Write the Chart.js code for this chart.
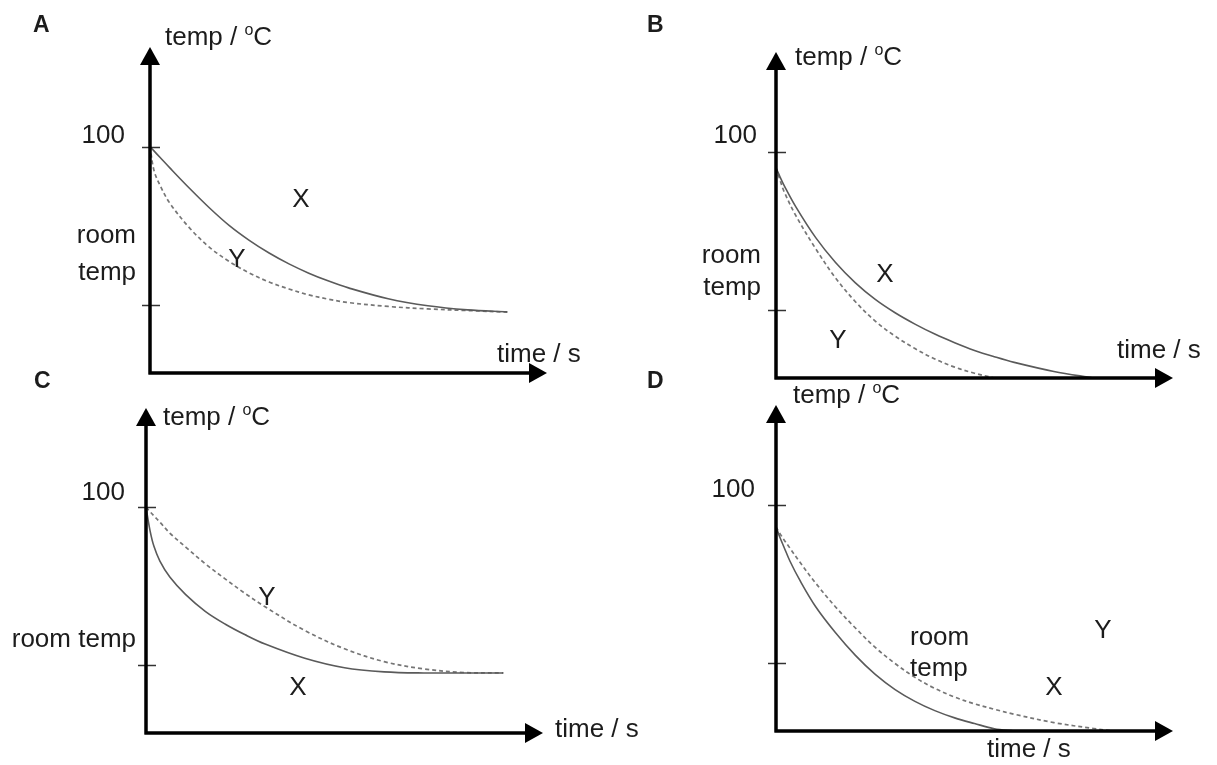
<!DOCTYPE html>
<html>
<head>
<meta charset="utf-8">
<title>Cooling curves A-D</title>
<script src="https://cdn.jsdelivr.net/npm/chart.js@4.4.1/dist/chart.umd.min.js"></script>
<style>
  html, body { margin: 0; padding: 0; background: #fff; overflow: hidden; }
  #wrap { position: relative; width: 1217px; height: 765px; }
  #wrap canvas { position: absolute; left: 0; top: 0; }
</style>
</head>
<body>
<div id="wrap">
  <canvas id="panelA" width="1217" height="765"></canvas>
  <canvas id="panelB" width="1217" height="765"></canvas>
  <canvas id="panelC" width="1217" height="765"></canvas>
  <canvas id="panelD" width="1217" height="765"></canvas>
</div>
<script>
// ===== DATA =====
// time in arbitrary units (0..100 = whole x axis), temp in degC-ish units (axis 0..144)
const tempTicks = [100, 30];          // "100" and "room temp"
const tempMax = 144;
const timeMax = 100;

// Panel A
const timeA  = [0, 1, 2.5, 5, 10, 15, 20, 25, 30, 35, 40, 45, 50, 60, 70, 80, 90];
const tempAX = [100, 98.1, 95.3, 90.6, 81.5, 72.9, 65.1, 58.6, 53.0, 48.2, 44.1, 40.6, 37.6, 32.8, 29.7, 27.9, 27.0];
const tempAY = [100, 89.5, 83, 75, 64, 55.5, 49.2, 44.2, 40.2, 37.1, 34.5, 32.6, 31.1, 29.4, 28.3, 27.6, 26.9];

// Panel B
const timeB  = [0, 1, 2, 5, 10, 15, 20, 25, 30, 35, 40, 45, 50, 55, 60, 70, 80];
const tempBX = [92.8, 88.9, 85.2, 75.6, 62, 51, 42, 34.7, 28.8, 23.8, 19.4, 15.6, 12.2, 9.4, 6.9, 2.9, 0];
const tempBY = [92.8, 87.5, 82.5, 71.7, 57.1, 44.2, 33.7, 25.1, 18.5, 13.0, 8.4, 4.8, 2.1, 0, null, null, null];

// Panel C
const timeC  = [0, 1, 2, 3.5, 6, 10, 15, 20, 25, 30, 40, 50, 60, 70, 80, 90];
const tempCX = [100, 89.8, 82.7, 76.2, 69.1, 61.3, 53.8, 48.2, 43.5, 39.4, 33.1, 28.9, 27.1, 26.6, 26.6, 26.6];
const tempCY = [100, 98.1, 96.2, 93.4, 88.6, 82.4, 74.9, 68.2, 61.8, 55.9, 45.4, 37.3, 31.6, 28.4, 26.8, 26.6];

// Panel D
const timeD  = [0, 1, 2, 3.5, 6, 10, 15, 20, 25, 30, 35, 40, 45, 50, 55, 60, 70, 80, 85];
const tempDX = [90.1, 85.5, 81.3, 75.1, 66.6, 54.9, 43.4, 33.4, 25.0, 18.3, 13.1, 9.0, 5.8, 3.3, 1.0, 0, null, null, null];
const tempDY = [90.1, 87.2, 84.5, 80.8, 74.6, 65.3, 54.8, 45.5, 36.9, 29.8, 23.7, 18.8, 15.0, 12.0, 9.6, 7.4, 3.7, 1.1, 0];

// ===== LAYOUT (page pixels) =====
const FONT = '"Liberation Sans", Arial, Helvetica, sans-serif';
const TEXT_SIZE = 26;

const panels = [
  {
    id: 'panelA', time: timeA, x: tempAX, y: tempAY,
    area: { left: 150, top: 47, right: 547, bottom: 373 },
    letter: ['A', 33, 32],
    yTitle: [165, 45],
    xTitle: [497, 362],
    hundred: [125, 143],
    room: { align: 'right', x: 136, lines: [['room', 243], ['temp', 280]] },
    marks: [['X', 301, 207], ['Y', 237, 267]]
  },
  {
    id: 'panelB', time: timeB, x: tempBX, y: tempBY,
    area: { left: 776, top: 52, right: 1173, bottom: 378 },
    letter: ['B', 647, 32],
    yTitle: [795, 65],
    xTitle: [1117, 358],
    hundred: [757, 143],
    room: { align: 'right', x: 761, lines: [['room', 263], ['temp', 295]] },
    marks: [['X', 885, 282], ['Y', 838, 348]]
  },
  {
    id: 'panelC', time: timeC, x: tempCX, y: tempCY,
    area: { left: 146, top: 408, right: 543, bottom: 733 },
    letter: ['C', 34, 388],
    yTitle: [163, 425],
    xTitle: [555, 737],
    hundred: [125, 500],
    room: { align: 'right', x: 136, lines: [['room temp', 647]] },
    marks: [['Y', 267, 605], ['X', 298, 695]]
  },
  {
    id: 'panelD', time: timeD, x: tempDX, y: tempDY,
    area: { left: 776, top: 405, right: 1173, bottom: 731 },
    letter: ['D', 647, 388],
    yTitle: [793, 403],
    xTitle: [987, 757],
    hundred: [755, 497],
    room: { align: 'left', x: 910, lines: [['room', 645], ['temp', 676]] },
    marks: [['Y', 1103, 638], ['X', 1054, 695]]
  }
];

function toPoints(times, temps) {
  const pts = [];
  times.forEach((t, i) => {
    if (temps[i] !== null) pts.push({ x: t, y: temps[i] });
  });
  return pts;
}

// ===== AXES + LABELS PLUGIN =====
const sketchAxes = {
  id: 'sketchAxes',
  afterDatasetsDraw(chart, args, opts) {
    const { ctx, chartArea: a, scales } = chart;
    const p = opts.panel;
    ctx.save();

    // tick marks on the temp axis
    ctx.strokeStyle = '#333';
    ctx.lineWidth = 1.5;
    tempTicks.forEach(v => {
      const py = Math.round(scales.y.getPixelForValue(v)) + 0.5;
      ctx.beginPath();
      ctx.moveTo(a.left - 8, py);
      ctx.lineTo(a.left + 10, py);
      ctx.stroke();
    });

    // axes with arrow heads
    const head = 18, half = 10;
    ctx.strokeStyle = '#000';
    ctx.fillStyle = '#000';
    ctx.lineWidth = 3.5;
    ctx.beginPath();
    ctx.moveTo(a.left, a.bottom + 1.5);
    ctx.lineTo(a.left, a.top + head - 1);
    ctx.moveTo(a.left - 1.5, a.bottom);
    ctx.lineTo(a.right - head + 1, a.bottom);
    ctx.stroke();

    ctx.beginPath();
    ctx.moveTo(a.left, a.top);
    ctx.lineTo(a.left - half, a.top + head);
    ctx.lineTo(a.left + half, a.top + head);
    ctx.closePath();
    ctx.fill();

    ctx.beginPath();
    ctx.moveTo(a.right, a.bottom);
    ctx.lineTo(a.right - head, a.bottom - half);
    ctx.lineTo(a.right - head, a.bottom + half);
    ctx.closePath();
    ctx.fill();

    // texts
    ctx.fillStyle = '#1c1c1c';
    ctx.textBaseline = 'alphabetic';

    ctx.font = 'bold 23px ' + FONT;
    ctx.textAlign = 'left';
    ctx.fillText(p.letter[0], p.letter[1], p.letter[2]);

    ctx.font = TEXT_SIZE + 'px ' + FONT;
    // temp / oC with raised small o
    let tx = p.yTitle[0];
    const ty = p.yTitle[1];
    const part1 = 'temp / ';
    ctx.fillText(part1, tx, ty);
    tx += ctx.measureText(part1).width;
    ctx.font = '16px ' + FONT;
    ctx.fillText('o', tx, ty - 10);
    tx += ctx.measureText('o').width;
    ctx.font = TEXT_SIZE + 'px ' + FONT;
    ctx.fillText('C', tx, ty);

    ctx.fillText('time / s', p.xTitle[0], p.xTitle[1]);

    ctx.textAlign = 'right';
    ctx.fillText('100', p.hundred[0], p.hundred[1]);

    ctx.textAlign = p.room.align;
    p.room.lines.forEach(([txt, by]) => ctx.fillText(txt, p.room.x, by));

    ctx.textAlign = 'center';
    p.marks.forEach(([txt, cx, by]) => ctx.fillText(txt, cx, by));

    ctx.restore();
  }
};

// ===== BUILD CHARTS =====
const W = 1217, H = 765;

panels.forEach(p => {
  const canvas = document.getElementById(p.id);
  new Chart(canvas.getContext('2d'), {
    type: 'line',
    data: {
      datasets: [
        {
          label: 'X',
          data: toPoints(p.time, p.x),
          borderColor: '#5a5a5a',
          borderWidth: 1.6,
          pointRadius: 0,
          fill: false,
          tension: 0.35,
          clip: false
        },
        {
          label: 'Y',
          data: toPoints(p.time, p.y),
          borderColor: '#767676',
          borderWidth: 1.7,
          borderDash: [4, 3],
          pointRadius: 0,
          fill: false,
          tension: 0.35,
          clip: false
        }
      ]
    },
    options: {
      responsive: false,
      animation: false,
      events: [],
      layout: {
        padding: {
          left: p.area.left,
          top: p.area.top,
          right: W - p.area.right,
          bottom: H - p.area.bottom
        }
      },
      scales: {
        x: { type: 'linear', min: 0, max: timeMax, display: false },
        y: { type: 'linear', min: 0, max: tempMax, display: false }
      },
      plugins: {
        legend: { display: false },
        tooltip: { enabled: false },
        sketchAxes: { panel: p }
      }
    },
    plugins: [sketchAxes]
  });
});
</script>
</body>
</html>
